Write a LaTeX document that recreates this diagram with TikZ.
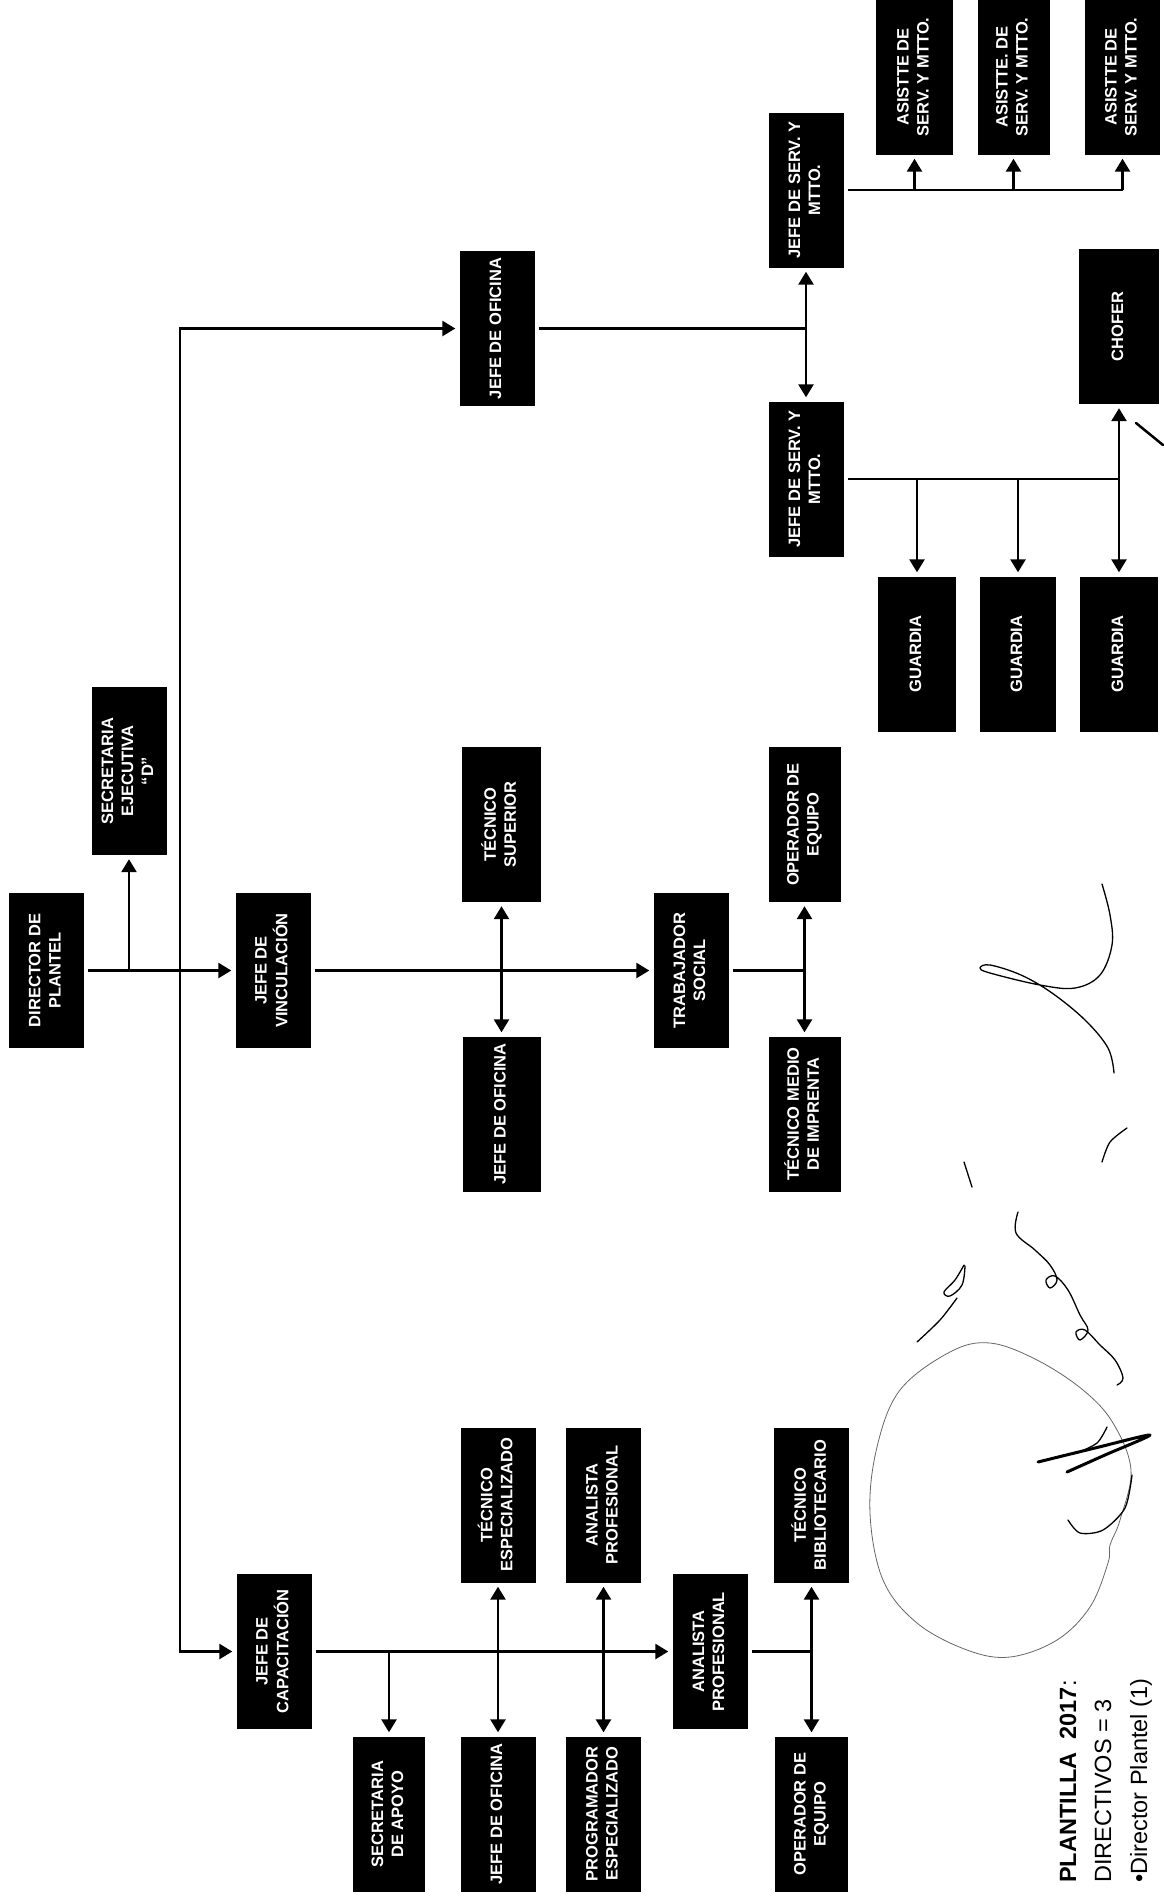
\documentclass[tikz,border=0pt]{standalone}
\usepackage{fontspec}
\setmainfont{Liberation Sans}
\usepackage{graphicx}
\usetikzlibrary{arrows.meta}
\newcommand{\rt}[1]{\rotatebox{90}{\begin{tabular}{@{}c@{}}#1\end{tabular}}}
\begin{document}
\begin{tikzpicture}[x=1pt,y=-1pt,
  box/.style={fill=black,text=white,minimum width=75pt,minimum height=155pt,inner sep=0pt,
    font=\fontsize{16.5}{20}\selectfont\bfseries},
  ln/.style={line width=2.6pt},
  tip/.tip={Triangle[length=13pt,width=15pt]},
  arr/.style={ln,-tip,shorten >=4pt},
  dbl/.style={ln,tip-tip,shorten >=4pt,shorten <=4pt},
  sbox/.style={shorten <=4pt},
  sig/.style={line width=1.3pt,line cap=round,line join=round},
  sigthin/.style={line width=0.8pt,black!60}]
\useasboundingbox (0,0) rectangle (1163,1903);

% boxes
\node[box] (dir) at (46.5,970.5) {\rt{DIRECTOR DE\\PLANTEL}};
\node[box,minimum height=168pt] (sec) at (129,771) {\rt{SECRETARIA\\EJECUTIVA\\``D''}};
\node[box] (jv) at (273,970.5) {\rt{JEFE DE\\VINCULACIÓN}};
\node[box] (jo1) at (497,328.5) {\rt{JEFE DE OFICINA}};
\node[box] (js1) at (806,190) {\rt{JEFE DE SERV. Y\\MTTO.}};
\node[box] (js2) at (806,479) {\rt{JEFE DE SERV. Y\\MTTO.}};
\node[box,minimum width=77pt] (as1) at (914.5,77) {\rt{ASISTTE DE\\SERV. Y MTTO.}};
\node[box,minimum width=72pt] (as2) at (1013.5,77) {\rt{ASISTTE. DE\\SERV. Y MTTO.}};
\node[box] (as3) at (1122.5,77) {\rt{ASISTTE DE\\SERV. Y MTTO.}};
\node[box,minimum width=80pt] (cho) at (1119,326.5) {\rt{CHOFER}};
\node[box,minimum width=78pt] (g1) at (917,654) {\rt{GUARDIA}};
\node[box,minimum width=76pt] (g2) at (1018,654) {\rt{GUARDIA}};
\node[box,minimum width=78pt] (g3) at (1119,654) {\rt{GUARDIA}};
\node[box,minimum width=79pt] (ts) at (501.5,824.5) {\rt{TÉCNICO\\SUPERIOR}};
\node[box,minimum width=78pt] (jo2) at (501.5,1114) {\rt{JEFE DE OFICINA}};
\node[box] (tr) at (691,970.5) {\rt{TRABAJADOR\\SOCIAL}};
\node[box,minimum width=72pt] (op1) at (804.5,824.5) {\rt{OPERADOR DE\\EQUIPO}};
\node[box,minimum width=72pt] (tmi) at (804.5,1114) {\rt{TÉCNICO MEDIO\\DE IMPRENTA}};
\node[box] (jc) at (274,1651.5) {\rt{JEFE DE\\CAPACITACIÓN}};
\node[box,minimum width=72pt] (sa) at (389,1814) {\rt{SECRETARIA\\DE APOYO}};
\node[box] (jo3) at (498,1814) {\rt{JEFE DE OFICINA}};
\node[box] (pe) at (603.5,1814) {\rt{PROGRAMADOR\\ESPECIALIZADO}};
\node[box] (tes) at (498,1505) {\rt{TÉCNICO\\ESPECIALIZADO}};
\node[box] (ap1) at (603.5,1505) {\rt{ANALISTA\\PROFESIONAL}};
\node[box] (ap2) at (710,1651.5) {\rt{ANALISTA\\PROFESIONAL}};
\node[box] (tb) at (811.5,1505) {\rt{TÉCNICO\\BIBLIOTECARIO}};
\node[box,minimum width=73pt] (op2) at (811.5,1814) {\rt{OPERADOR DE\\EQUIPO}};

% connectors
\coordinate (vx) at (180,0);
\draw[arr,sbox] (dir.east) -- (jv.west);
\draw[arr] (sec.south |- dir.east) -- (sec.south);
\draw[dbl] (jo1.west) -- (jo1.west -| vx) -- (jc.west -| vx) -- (jc.west);
\draw[arr,sbox] (jv.east) -- (tr.west);
\draw[dbl] (ts.south) -- (jo2.north);
\draw[ln,sbox] (tr.east) -- (op1.south |- tr.east);
\draw[dbl] (op1.south) -- (tmi.north);
\draw[ln,sbox] (jo1.east) -- (js1.south |- jo1.east);
\draw[dbl] (js1.south) -- (js2.north);
\draw[ln,sbox] (js1.east) -- (as3.south |- js1.east);
\foreach \a in {as1,as2,as3} \draw[arr] (\a.south |- js1.east) -- (\a.south);
\draw[ln,sbox] (js2.east) -- (g3.north |- js2.east);
\foreach \a in {g1,g2,g3} \draw[arr] (\a.north |- js2.east) -- (\a.north);
\draw[arr] (cho.south |- js2.east) -- (cho.south);
\draw[arr,sbox] (jc.east) -- (ap2.west);
\draw[arr] (sa.north |- jc.east) -- (sa.north);
\draw[dbl] (tes.south) -- (jo3.north);
\draw[dbl] (ap1.south) -- (pe.north);
\draw[ln,sbox] (ap2.east) -- (tb.south |- ap2.east);
\draw[dbl] (tb.south) -- (op2.north);

% legend
\node[rotate=90,anchor=base west,inner sep=0pt,font=\fontsize{23.5}{28}\selectfont] (l1) at (1076,1883) {\textbf{PLANTILLA \ 2017}:};
\node[rotate=90,anchor=base west,inner sep=0pt,font=\fontsize{23.5}{28}\selectfont] (l2) at (1111,1883) {DIRECTIVOS = 3};
\node[rotate=90,anchor=base west,inner sep=0pt,font=\fontsize{23.5}{28}\selectfont] (l3) at (1147,1883) {•Director Plantel (1)};

% signatures
\draw[sig] plot[smooth,tension=0.6] coordinates {(1102,884) (1110,915) (1112,945) (1100,975) (1075,988) (1040,985) (990,973) (980,968) (990,965) (1021,975) (1052,993) (1085,1020) (1108,1048) (1114,1073)};
\draw[sig] plot[smooth] coordinates {(1127,1128) (1110,1142) (1102,1162)};
\draw[sig] plot[smooth] coordinates {(964,1162) (972,1187)};
\draw[sig] plot[smooth,tension=0.6] coordinates {(1018,1212) (1016,1233) (1035,1250) (1050,1265) (1057,1280) (1050,1288) (1046,1280) (1055,1276) (1068,1290) (1080,1315) (1088,1330) (1080,1340) (1076,1332) (1085,1330) (1100,1345) (1115,1360) (1123,1378) (1117,1385)};
\draw[sig] plot[smooth,tension=0.6] coordinates {(964,1265) (955,1280) (944,1292) (950,1296) (962,1285) (965,1266)};
\draw[sig] plot[smooth] coordinates {(957,1298) (940,1320) (917,1342)};
\draw[sigthin] plot[smooth cycle,tension=0.6] coordinates {(990,1343) (1037,1360) (1083,1390) (1113,1423) (1131,1470) (1120,1520) (1110,1545) (1108,1563) (1090,1607) (1057,1640) (1010,1657) (967,1650) (917,1623) (883,1580) (870,1513) (877,1447) (900,1390) (950,1352)};
\draw[sig,line width=3pt] plot[smooth,tension=0.5] coordinates {(1038,1462) (1095,1448) (1150,1435) (1105,1455) (1067,1472)};
\draw[sig] plot[smooth] coordinates {(1107,1427) (1097,1443) (1077,1453)};
\draw[sig] plot[smooth] coordinates {(1132,1475) (1125,1508) (1103,1530) (1080,1533) (1068,1520)};
\draw[sig,line width=2.5pt] (1136,423) -- (1163,445);
\end{tikzpicture}
\end{document}
